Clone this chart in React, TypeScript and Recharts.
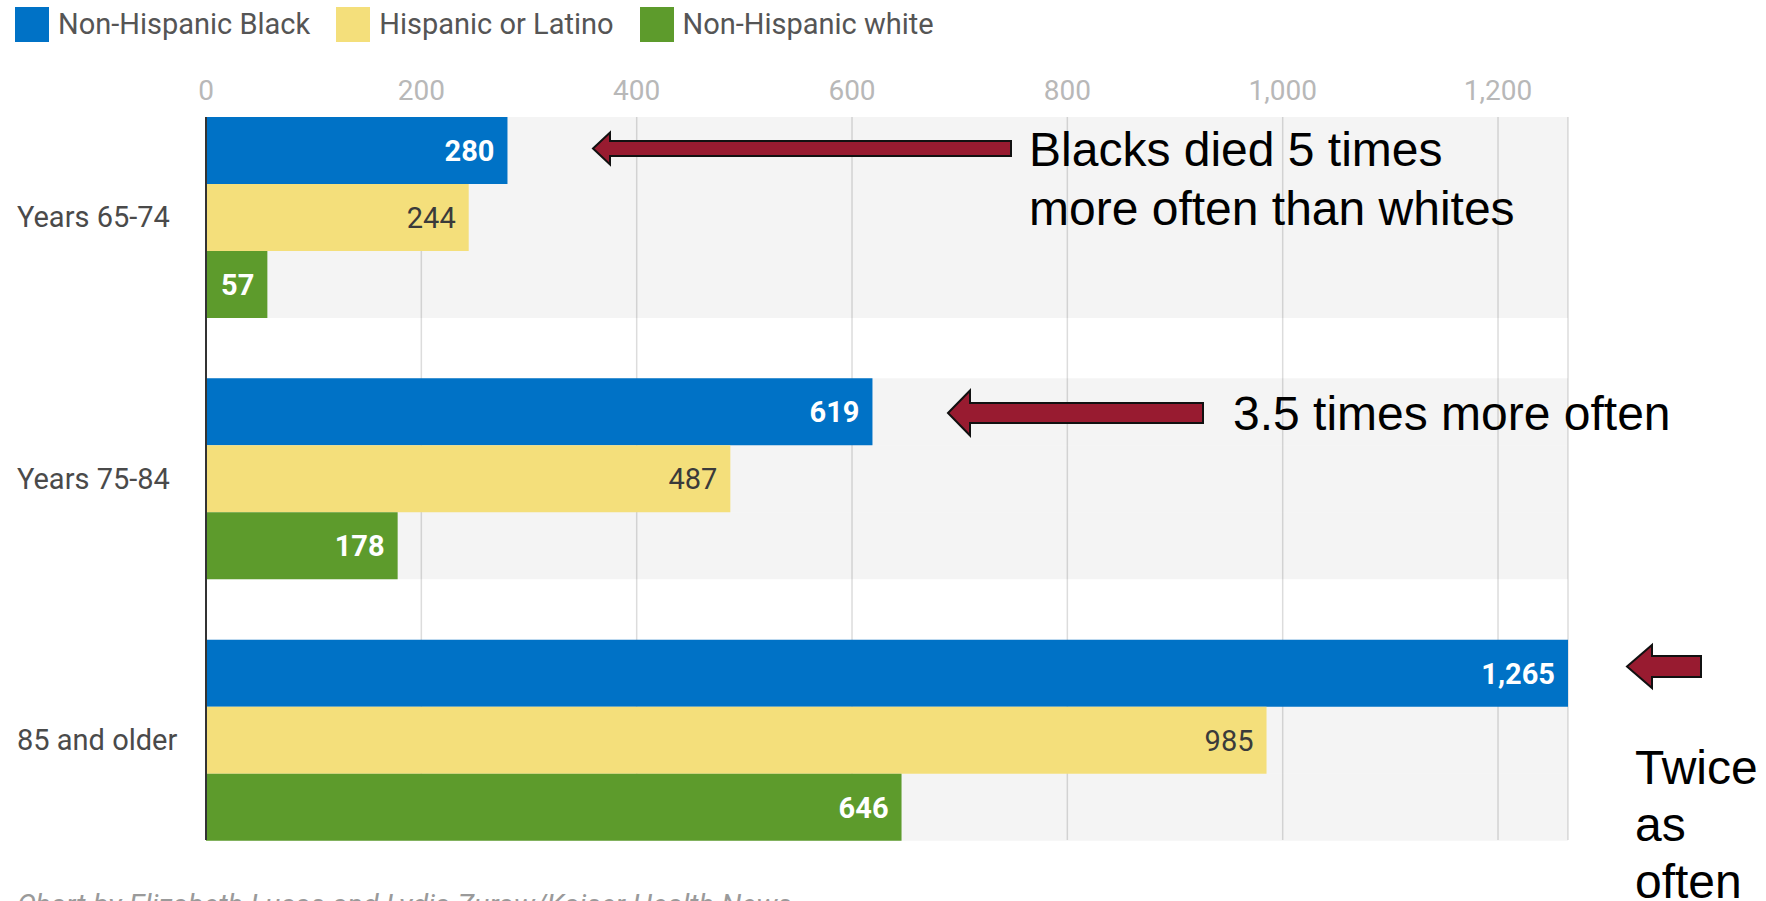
import React from 'react';
import { BarChart, Bar, XAxis, YAxis, CartesianGrid, LabelList, Legend } from 'recharts';

const categories = ['Years 65-74', 'Years 75-84', '85 and older'];
const blackValues = [280, 619, 1265];
const hispanicValues = [244, 487, 985];
const whiteValues = [57, 178, 646];
const xTicks = [0, 200, 400, 600, 800, 1000, 1200];
const seriesNames = ['Non-Hispanic Black', 'Hispanic or Latino', 'Non-Hispanic white'];
const seriesColors = ['#0072c6', '#f4df7b', '#5d9b2c'];
const annotation1 = ['Blacks died 5 times', 'more often than whites'];
const annotation2 = ['3.5 times more often'];
const annotation3 = ['Twice', 'as', 'often'];
const footerText = 'Chart by Elizabeth Lucas and Lydia Zuraw/Kaiser Health News';

const data = categories.map((c, i) => ({
  category: c,
  black: blackValues[i],
  hispanic: hispanicValues[i],
  white: whiteValues[i],
}));

const fmt = (v: any) => Number(v).toLocaleString('en-US');

const CategoryTick = (props: any) => {
  const { y, payload } = props;
  return (
    <text x={17} y={y} dy="0.36em" fill="#4a4a4a" fontSize={29} fontFamily="Roboto" textAnchor="start">
      {payload.value}
    </text>
  );
};

const renderLegend = (props: any) => {
  const payload = [...(props.payload || [])].sort(
    (a: any, b: any) => seriesNames.indexOf(a.value) - seriesNames.indexOf(b.value)
  );
  return (
    <div style={{ display: 'flex', alignItems: 'center', fontFamily: 'Roboto' }}>
      {payload.map((entry: any, i: number) => (
        <div key={i} style={{ display: 'flex', alignItems: 'center', marginRight: 26 }}>
          <span style={{ display: 'inline-block', width: 34, height: 35, background: entry.color, marginRight: 9 }} />
          <span style={{ fontSize: 29, color: '#555', lineHeight: '35px', whiteSpace: 'nowrap' }}>{entry.value}</span>
        </div>
      ))}
    </div>
  );
};

const arrowPoints = (tip: number, tail: number, cy: number, shaft: number, head: number, headLen: number) =>
  [
    [tip, cy],
    [tip + headLen, cy - head / 2],
    [tip + headLen, cy - shaft / 2],
    [tail, cy - shaft / 2],
    [tail, cy + shaft / 2],
    [tip + headLen, cy + shaft / 2],
    [tip + headLen, cy + head / 2],
  ]
    .map((p) => p.join(','))
    .join(' ');

const Annotations = () => (
  <svg width={1766} height={901} style={{ position: 'absolute', left: 0, top: 0, pointerEvents: 'none' }}>
    <g fill="#981b30" stroke="#111" strokeWidth={2} strokeLinejoin="miter">
      <polygon points={arrowPoints(593, 1011, 148.5, 15, 32, 17)} />
      <polygon points={arrowPoints(948, 1203, 413, 20, 45, 22)} />
      <polygon points={arrowPoints(1627, 1701, 666.5, 21, 43, 25)} />
    </g>
    <g fontFamily="'Liberation Sans', Arial, sans-serif" fontSize={48} fill="#000">
      {annotation1.map((t, i) => (
        <text key={i} x={1029} y={166 + i * 58.5}>{t}</text>
      ))}
      {annotation2.map((t, i) => (
        <text key={i} x={1233} y={430}>{t}</text>
      ))}
      {annotation3.map((t, i) => (
        <text key={i} x={1635} y={784 + i * 57}>{t}</text>
      ))}
    </g>
    <text x={17} y={915} fontFamily="Roboto" fontStyle="italic" fontSize={29} fill="#9a9a9a">{footerText}</text>
  </svg>
);

export default function App() {
  return (
    <div style={{ position: 'absolute', left: 0, top: 0, width: 1766, height: 901, background: '#fff', overflow: 'hidden' }}>
      <BarChart
        width={1766}
        height={901}
        data={data}
        layout="vertical"
        margin={{ top: 87, right: 198, bottom: 61, left: 0 }}
        barGap={0}
        barCategoryGap={30.6}
      >
        <CartesianGrid horizontal={false} stroke="#dcdcdc" strokeWidth={1.5} />
        <XAxis
          type="number"
          orientation="top"
          domain={[0, 1265]}
          ticks={xTicks}
          interval={0}
          height={30}
          tickSize={0}
          tickMargin={17}
          axisLine={false}
          tickLine={false}
          tick={{ fill: '#b8b8b8', fontSize: 28, fontFamily: 'Roboto' }}
          tickFormatter={fmt}
        />
        <Bar dataKey="black" name={seriesNames[0]} fill={seriesColors[0]} background={{ fill: 'rgba(0,0,0,0.045)' }} isAnimationActive={false}>
          <LabelList dataKey="black" position="insideRight" offset={13} fill="#ffffff" fontSize={29} fontWeight={700} fontFamily="Roboto" formatter={fmt} />
        </Bar>
        <Bar dataKey="hispanic" name={seriesNames[1]} fill={seriesColors[1]} background={{ fill: 'rgba(0,0,0,0.045)' }} isAnimationActive={false}>
          <LabelList dataKey="hispanic" position="insideRight" offset={13} fill="#3a3a3a" fontSize={29} fontFamily="Roboto" formatter={fmt} />
        </Bar>
        <Bar dataKey="white" name={seriesNames[2]} fill={seriesColors[2]} background={{ fill: 'rgba(0,0,0,0.045)' }} isAnimationActive={false}>
          <LabelList dataKey="white" position="insideRight" offset={13} fill="#ffffff" fontSize={29} fontWeight={700} fontFamily="Roboto" formatter={fmt} />
        </Bar>
        <YAxis
          type="category"
          dataKey="category"
          width={206}
          padding={{ top: -30.7, bottom: -30.7 }}
          axisLine={{ stroke: '#333', strokeWidth: 2 }}
          tickLine={false}
          tick={<CategoryTick />}
        />
        <Legend
          verticalAlign="middle"
          align="center"
          wrapperStyle={{ top: 7, left: 15, width: 'auto', height: 'auto' }}
          content={renderLegend}
        />
      </BarChart>
      <Annotations />
    </div>
  );
}
